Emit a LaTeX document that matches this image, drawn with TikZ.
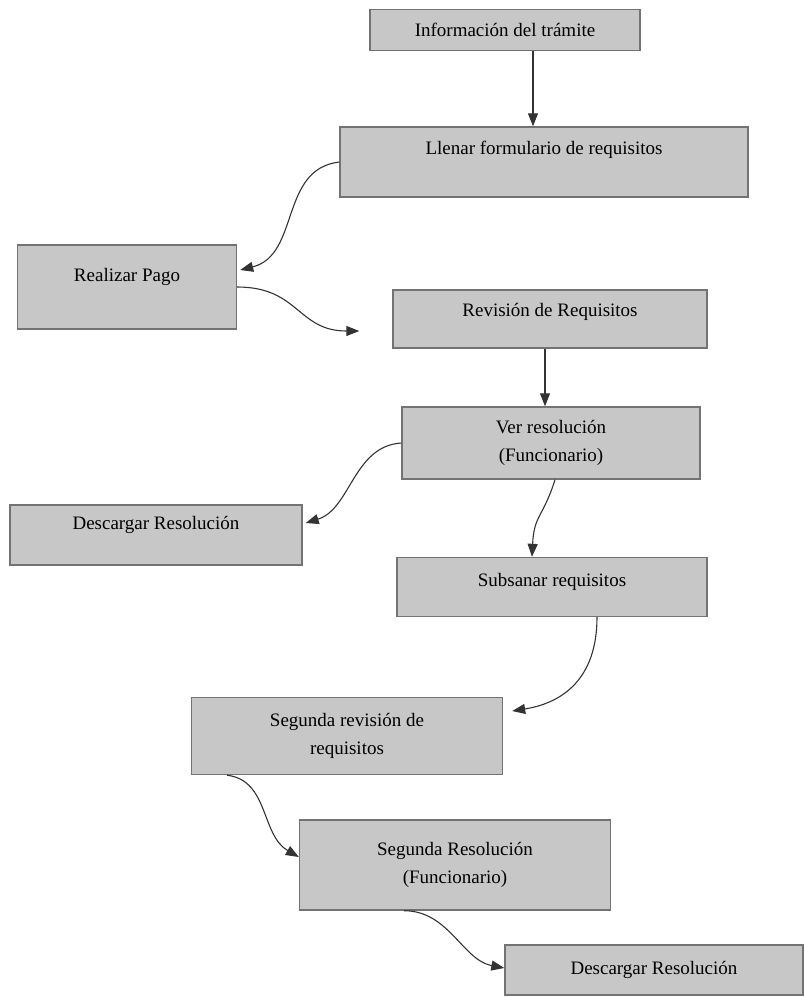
\documentclass[tikz,border=0pt]{standalone}
\usepackage{fontspec}
\setmainfont{Liberation Serif}
\usetikzlibrary{arrows.meta,positioning}
\tikzstyle{every picture}=[x=1pt, y=-1pt, >={Triangle[length=13pt,width=10pt]},%
	line width=1.1pt]
\tikzstyle{paso}=[draw=black!55, line width=1.4pt, fill=black!22, inner sep=0pt,%
	align=center, font=\fontsize{19}{28}\selectfont]
\tikzstyle{flecha}=[->, draw=black!80]

\begin{document}
\begin{tikzpicture}
	\useasboundingbox (0,0) rectangle (805,997);
	\node[paso, minimum width=270pt, minimum height=41pt] (info) at (505,30) {Información del trámite};
	\node[paso, minimum width=408pt, minimum height=70pt, text depth=28pt] (llenar) at (544,162) {Llenar formulario de requisitos};
	\node[paso, minimum width=219pt, minimum height=84pt, text depth=24pt] (pago) at (127,287) {Realizar Pago};
	\node[paso, minimum width=314pt, minimum height=58pt, text depth=18pt] (revision) at (550,319) {Revisión de Requisitos};
	\node[paso, minimum width=298pt, minimum height=72pt] (ver) at (551,443) {Ver resolución\\(Funcionario)};
	\node[paso, minimum width=292pt, minimum height=60pt, text depth=24pt] (descarga) at (156,535) {Descargar Resolución};
	\node[paso, minimum width=310pt, minimum height=59pt, text depth=14pt] (subsanar) at (552,587) {Subsanar requisitos};
	\node[paso, minimum width=311pt, minimum height=77pt] (segrev) at (347,736) {Segunda revisión de\\requisitos};
	\node[paso, minimum width=311pt, minimum height=90pt] (segres) at (455,865) {Segunda Resolución\\(Funcionario)};
	\node[paso, minimum width=298pt, minimum height=50pt] (descargados) at (654,970) {Descargar Resolución};
	% conectores
	\coordinate[left=33pt of revision.west, yshift=-12pt] (antesrev);
	\draw[flecha] ([xshift=28pt]info.south) -- ([xshift=-11pt]llenar.north);
	\draw[flecha] (llenar.west) .. controls +(-60,7) and +(60,-15) .. ([xshift=3pt,yshift=17pt]pago.east);
	\draw[flecha] (pago.east) .. controls +(62,0) and +(-62,0) .. (antesrev);
	\draw[flecha] ([xshift=-5pt]revision.south) -- ([xshift=-6pt]ver.north);
	\draw[flecha] (ver.west) .. controls +(-48,3) and +(45,-14) .. ([xshift=3pt,yshift=12pt]descarga.east);
	\draw[flecha] ([xshift=4pt]ver.south) .. controls +(-12,38) and +(2,-42) .. ([xshift=-20pt]subsanar.north);
	\draw[flecha] ([xshift=45pt]subsanar.south) .. controls +(0,62) and +(50,-8) .. ([xshift=9pt,yshift=25pt]segrev.east);
	\draw[flecha] ([xshift=-120pt]segrev.south) .. controls +(42,5) and +(-38,-22) .. ([yshift=8pt]segres.west);
	\draw[flecha] ([xshift=-51pt]segres.south) .. controls +(45,0) and +(-42,-8) .. ([yshift=2pt]descargados.west);
\end{tikzpicture}
\end{document}
